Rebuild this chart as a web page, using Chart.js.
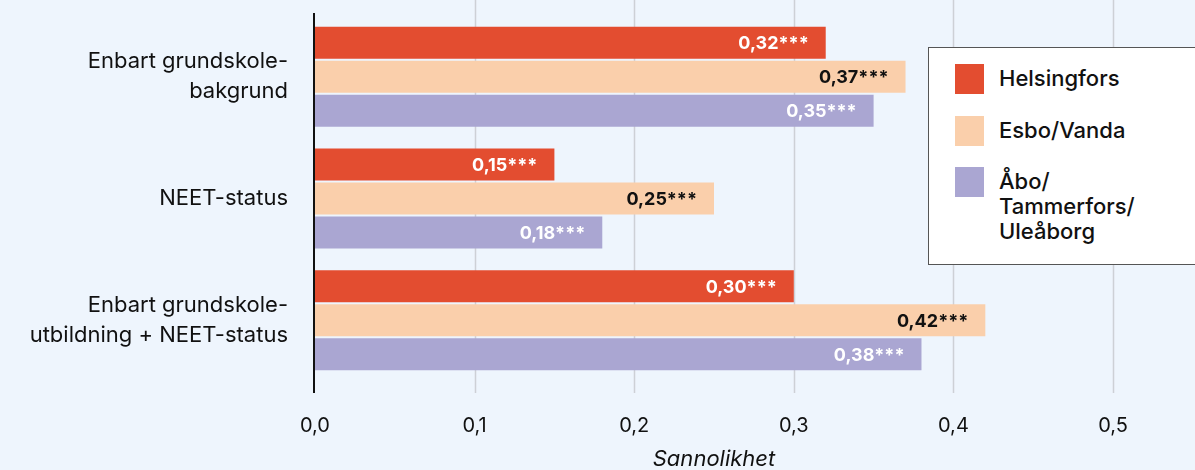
<!DOCTYPE html>
<html lang="sv">
<head>
<meta charset="UTF-8">
<title>Sannolikhet</title>
<script src="https://cdn.jsdelivr.net/npm/chart.js"></script>
<style>
  html, body { margin: 0; padding: 0; background: #eef5fd; }
  #wrap { position: relative; width: 1195px; height: 470px; }
  #legend {
    position: absolute; left: 928px; top: 47px; width: 280px; height: 218px;
    box-sizing: border-box; background: #fff; border: 1.5px solid #555;
    font-family: Inter, "Noto Sans", sans-serif; font-size: 22px; font-weight: 500; color: #111;
  }
  .item { position: absolute; left: 26px; display: flex; align-items: flex-start; }
  .sw { width: 29px; height: 30px; flex: none; margin-right: 15px; }
  .lbl { line-height: 25px; margin-top: 2px; }
</style>
</head>
<body>
<div id="wrap">
  <canvas id="chart" width="1195" height="470"></canvas>
  <div id="legend"></div>
</div>
<script>
const categories = [
  ['Enbart grundskole-', 'bakgrund'],
  'NEET-status',
  ['Enbart grundskole-', 'utbildning + NEET-status']
];
const seriesNames = ['Helsingfors', 'Esbo/Vanda', 'Åbo/\nTammerfors/\nUleåborg'];
const helsingfors = [0.32, 0.15, 0.30];
const esboVanda = [0.37, 0.25, 0.42];
const aboTammerforsUleaborg = [0.35, 0.18, 0.38];
const stars = ['***', '***', '***'];
const xTicks = [0, 0.1, 0.2, 0.3, 0.4, 0.5];

const colors = ['#e34d30', '#facfab', '#aaa6d2'];
const labelColors = ['#ffffff', '#111111', '#ffffff'];
const fontFamily = 'Inter, "Noto Sans", sans-serif';

// legend box
const legend = document.getElementById('legend');
const legendTops = [16, 68, 119];
seriesNames.forEach((name, i) => {
  const it = document.createElement('div');
  it.className = 'item';
  it.style.top = legendTops[i] + 'px';
  it.innerHTML = '<div class="sw" style="background:' + colors[i] + '"></div><div class="lbl">' +
    name.split('\n').join('<br>') + '</div>';
  legend.appendChild(it);
});

const fmt = v => v.toFixed(2).replace('.', ',');

// gridlines and y axis line drawn a bit longer than the plot area
const gridPlugin = {
  id: 'grid',
  beforeDatasetsDraw(chart) {
    const ctx = chart.ctx, x = chart.scales.x;
    ctx.save();
    ctx.strokeStyle = '#cdd0d6';
    ctx.lineWidth = 1.5;
    xTicks.forEach(t => {
      if (t === 0) return;
      const px = Math.round(x.getPixelForValue(t)) + 0.5;
      ctx.beginPath(); ctx.moveTo(px, 0); ctx.lineTo(px, 393); ctx.stroke();
    });
    ctx.strokeStyle = '#111';
    ctx.lineWidth = 2;
    const p0 = x.getPixelForValue(0) - 1;
    ctx.beginPath(); ctx.moveTo(p0, 13); ctx.lineTo(p0, 393); ctx.stroke();
    ctx.restore();
  }
};

const valuePlugin = {
  id: 'values',
  afterDatasetsDraw(chart) {
    const ctx = chart.ctx;
    ctx.save();
    ctx.font = 'bold 18px ' + fontFamily;
    ctx.textAlign = 'right';
    ctx.textBaseline = 'middle';
    chart.data.datasets.forEach((ds, di) => {
      chart.getDatasetMeta(di).data.forEach((bar, i) => {
        ctx.fillStyle = labelColors[di];
        ctx.fillText(fmt(ds.data[i]) + stars[i], bar.x - 17, bar.y + 1);
      });
    });
    ctx.restore();
  }
};

new Chart(document.getElementById('chart'), {
  type: 'bar',
  data: {
    labels: categories,
    datasets: [
      { label: 'Helsingfors', data: helsingfors, backgroundColor: colors[0] },
      { label: 'Esbo/Vanda', data: esboVanda, backgroundColor: colors[1] },
      { label: 'Åbo/Tammerfors/Uleåborg', data: aboTammerforsUleaborg, backgroundColor: colors[2] }
    ]
  },
  options: {
    indexAxis: 'y',
    responsive: false,
    animation: false,
    categoryPercentage: 0.838,
    barPercentage: 0.94,
    layout: { padding: { top: 16, right: 82, left: 0, bottom: 0 } },
    plugins: { legend: { display: false }, tooltip: { enabled: false } },
    scales: {
      x: {
        min: 0, max: 0.5,
        afterBuildTicks: s => { s.ticks = xTicks.map(v => ({ value: v })); },
        afterFit: s => { s.height = 89; s.paddingLeft = 0; s.paddingRight = 0; },
        grid: { display: false },
        border: { display: false },
        ticks: {
          padding: 25,
          color: '#111',
          maxRotation: 0,
          font: { family: fontFamily, size: 20 },
          callback: v => v.toFixed(1).replace('.', ',')
        },
        title: {
          display: true, text: 'Sannolikhet', color: '#111',
          font: { family: fontFamily, size: 22, style: 'italic' },
          padding: { top: 0, bottom: -3 }
        }
      },
      y: {
        afterFit: s => { s.width = 315; s.paddingTop = 0; s.paddingBottom = 0; },
        grid: { display: false },
        border: { display: false },
        ticks: {
          padding: 19,
          color: '#111',
          font: { family: fontFamily, size: 22, lineHeight: 1.36 }
        }
      }
    }
  },
  plugins: [gridPlugin, valuePlugin]
});
</script>
</body>
</html>
